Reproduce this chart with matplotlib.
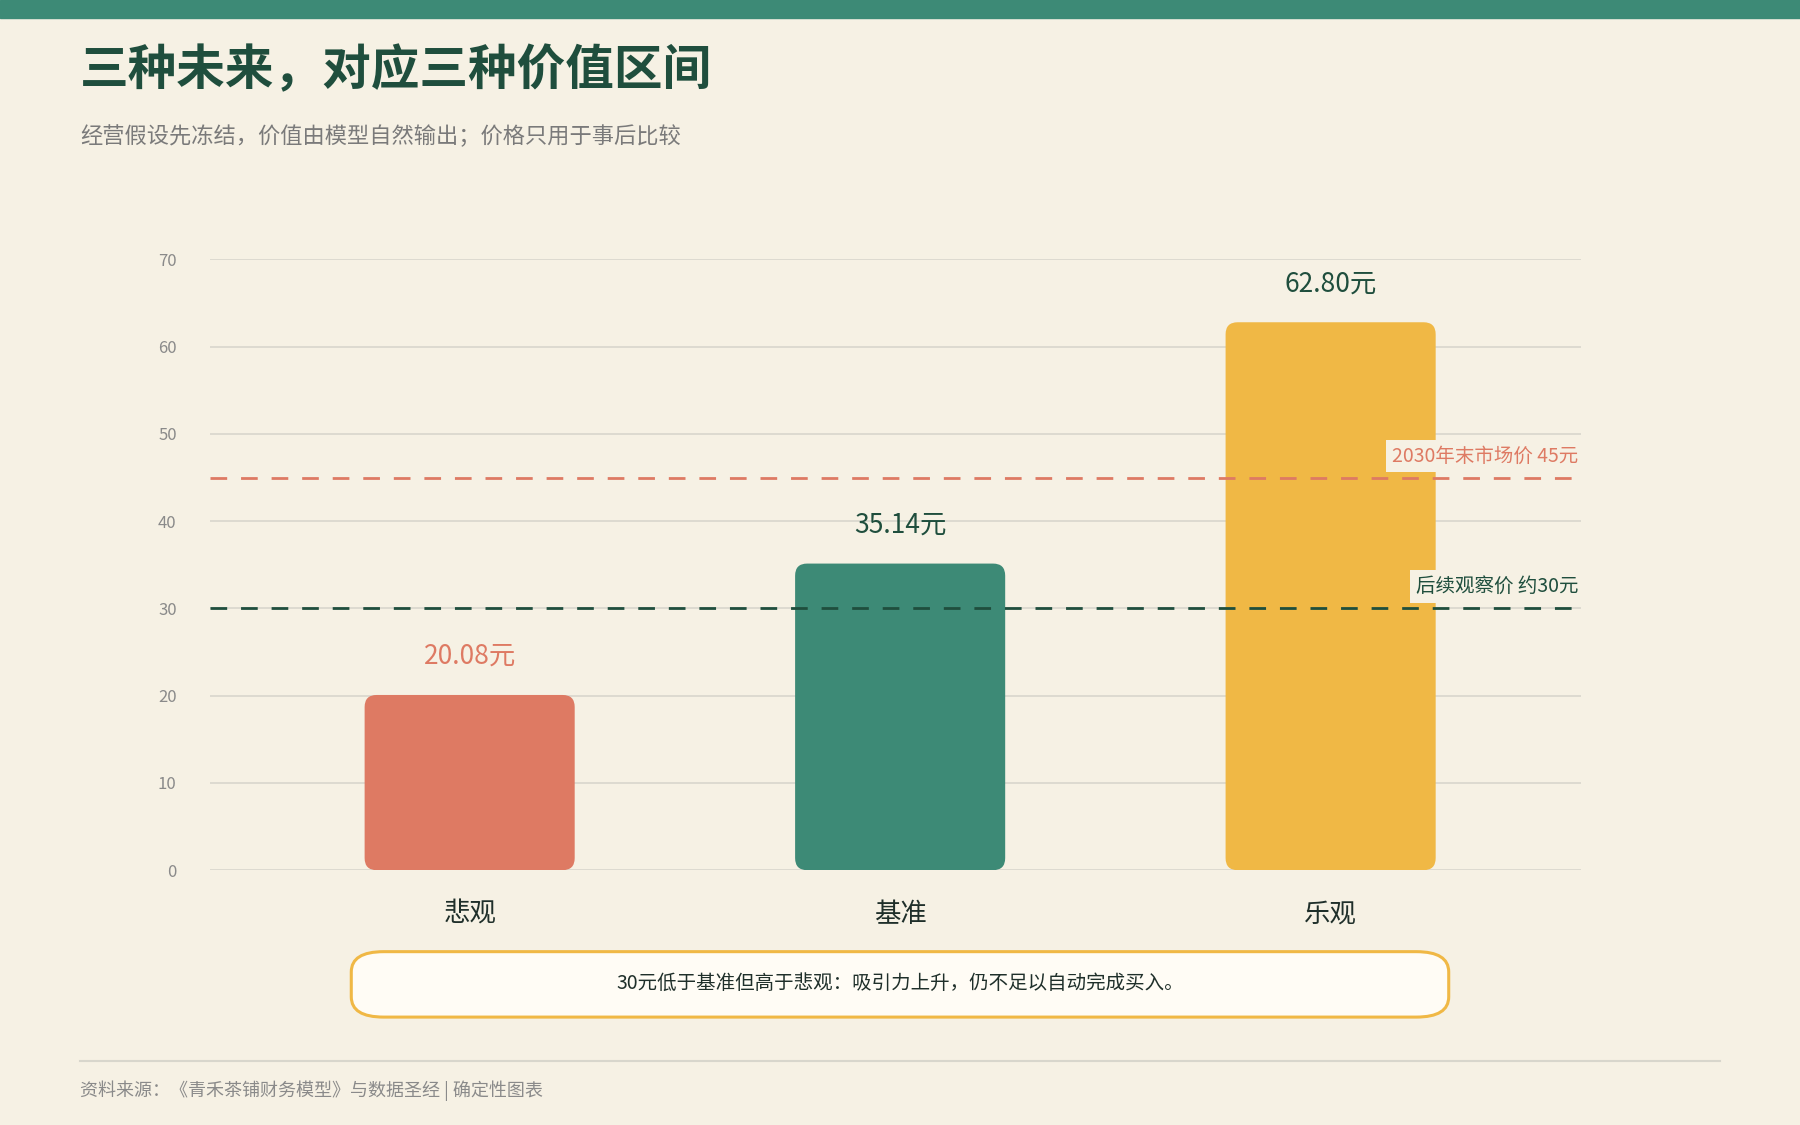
import matplotlib
matplotlib.use("Agg")
import matplotlib.pyplot as plt
from matplotlib.patches import FancyBboxPatch, Rectangle
from matplotlib.lines import Line2D

plt.rcParams['font.family'] = ['Noto Sans CJK SC', 'DejaVu Sans']

categories = ["悲观", "基准", "乐观"]
values = [20.08, 35.14, 62.80]
value_labels = ["20.08元", "35.14元", "62.80元"]
colors = ["#de7a63", "#3d8a76", "#f0b845"]
label_colors = ["#de7a63", "#1f4e3d", "#1f4e3d"]
yticks = [0, 10, 20, 30, 40, 50, 60, 70]
ref_values = [45, 30]
ref_labels = ["2030年末市场价 45元", "后续观察价 约30元"]
ref_colors = ["#de7a63", "#1f4e3d"]

BG = "#f6f1e4"
W, H = 1568, 980
fig = plt.figure(figsize=(18, 11.25), dpi=100, facecolor=BG)

def fx(px): return px / W
def fy(py): return 1 - py / H

# top band
fig.patches.append(Rectangle((0, fy(16)), 1, 16 / H, transform=fig.transFigure,
                             color="#3d8a76", zorder=0))
fig.text(fx(70), fy(62), "三种未来，对应三种价值区间", fontsize=35, fontweight="bold",
         color="#1f4e3d", va="center", ha="left")
fig.text(fx(70), fy(119), "经营假设先冻结，价值由模型自然输出；价格只用于事后比较", fontsize=16,
         color="#7a7a7a", va="center", ha="left")

ax = fig.add_axes([fx(183), fy(758), fx(1377) - fx(183), fy(226) - fy(758)])
ax.set_facecolor(BG)
ax.set_xlim(-0.603, 2.581)
ax.set_ylim(0, 70)
ax.set_yticks(yticks)
ax.set_yticklabels([str(t) for t in yticks], fontsize=12, color="#8a8a8a")
ax.tick_params(axis="y", length=0, pad=24)
ax.set_xticks(range(len(categories)))
ax.set_xticklabels(categories, fontsize=19, color="#1f2f2a")
ax.tick_params(axis="x", length=0, pad=22)
for s in ax.spines.values():
    s.set_visible(False)
ax.grid(axis="y", color="#d8d6cc", linewidth=1.2, zorder=0)
ax.set_axisbelow(True)

bars = ax.bar(range(len(categories)), values, width=0.488, color=colors, zorder=2)
aspect = (375 / (532 / 70))
for b, c in zip(bars, colors):
    b.set_visible(False)
    p = FancyBboxPatch((b.get_x(), 0), b.get_width(), b.get_height(),
                       boxstyle="round,pad=0,rounding_size=0.028",
                       mutation_aspect=aspect, facecolor=c, edgecolor="none", zorder=2)
    ax.add_patch(p)

for i, (v, lab, lc) in enumerate(zip(values, value_labels, label_colors)):
    ax.annotate(lab, (i, v), xytext=(0, 18), textcoords="offset points",
                ha="center", va="bottom", fontsize=19, color=lc, zorder=4)

for v, lab, c in zip(ref_values, ref_labels, ref_colors):
    ax.axhline(v, color=c, linestyle=(0, (6, 5)), linewidth=2, zorder=3)
    ax.annotate(lab, (2.575, v), xytext=(0, 8), textcoords="offset points",
                ha="right", va="bottom", fontsize=14, color=c, zorder=5,
                bbox=dict(boxstyle="square,pad=0.3", facecolor=BG, edgecolor="none"))

# callout
fig.patches.append(FancyBboxPatch((fx(306), fy(886)), fx(1262) - fx(306), (886 - 829) / H,
                                  boxstyle="round,pad=0,rounding_size=0.018",
                                  transform=fig.transFigure, facecolor="#fffcf5",
                                  edgecolor="#f0b845", linewidth=2.2, zorder=1))
fig.text(fx(784), fy(857), "30元低于基准但高于悲观：吸引力上升，仍不足以自动完成买入。",
         fontsize=14, color="#1f2f2a", ha="center", va="center", zorder=2)

fig.lines.append(Line2D([fx(70), fx(1498)], [fy(924), fy(924)], transform=fig.transFigure,
                        color="#d8d6cc", linewidth=1.5))
fig.text(fx(70), fy(950), "资料来源：《青禾茶铺财务模型》与数据圣经 | 确定性图表", fontsize=13,
         color="#8a8a8a", ha="left", va="center")

fig.savefig("out.png", dpi=100, facecolor=BG)
